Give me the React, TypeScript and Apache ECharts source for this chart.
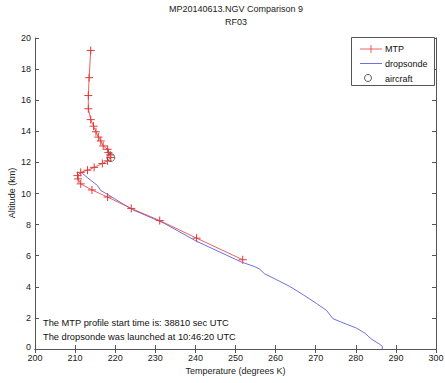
import React, { useEffect, useRef } from "react";
import * as echarts from "echarts";

const mtpTemp = [213.9, 213.5, 213.3, 213.3, 213.9, 214.6, 215.2, 215.8, 216.4, 217.0, 218.1, 218.3, 218.75, 218.9, 218.1, 216.8, 214.75, 213.1, 211.4, 210.6, 210.75, 211.4, 214.2, 218.1, 224.0, 231.1, 240.3, 251.8];
const mtpAlt = [19.2, 17.45, 16.3, 15.45, 14.75, 14.33, 13.97, 13.63, 13.38, 13.06, 12.84, 12.63, 12.48, 12.31, 12.1, 11.93, 11.68, 11.5, 11.36, 11.15, 10.94, 10.62, 10.23, 9.77, 9.04, 8.26, 7.13, 5.74];

const sondeTemp = [211.4, 211.8, 213.5, 215.6, 216.4, 218.1, 224.3, 231.0, 232.3, 240.2, 251.4, 254.75, 256.0, 257.25, 260.2, 263.5, 266.8, 270.2, 272.7, 274.3, 277.7, 280.2, 282.25, 283.9, 286.0, 286.6, 286.6];
const sondeAlt = [11.36, 11.3, 10.93, 10.51, 10.19, 9.94, 8.96, 8.22, 8.07, 6.94, 5.6, 5.3, 5.14, 4.84, 4.46, 4.03, 3.5, 2.93, 2.48, 1.95, 1.59, 1.34, 1.02, 0.64, 0.3, 0.17, 0.0];

const aircraftTemp = [218.9];
const aircraftAlt = [12.31];

const titleLines = ["MP20140613.NGV Comparison 9", "RF03"];
const noteLines = ["The MTP profile start time is: 38810 sec UTC", "The dropsonde was launched at 10:46:20 UTC"];
const legendNames = ["MTP", "dropsonde", "aircraft"];
const yAxisName = "Altitude (km)";
const xAxisName = "Temperature (degrees K)";

const FONT = "Liberation Sans, Arial, sans-serif";

export default function App() {
  const ref = useRef<HTMLDivElement>(null);
  useEffect(() => {
    if (!ref.current) return;
    const chart = echarts.init(ref.current, null, { renderer: "svg" });
    const L = 35, T = 38, W = 401, H = 311;
    const tickStyle = { show: true, inside: true, length: 4, lineStyle: { color: "#555" } };
    const axisLine = { show: true, lineStyle: { color: "#555", width: 1 } };
    const lab = { color: "#222", fontSize: 9, fontFamily: FONT };
    chart.setOption({
      animation: false,
      backgroundColor: "#fff",
      grid: { left: L, top: T, width: W, height: H, containLabel: false, outerBoundsMode: "none" },
      xAxis: [
        {
          type: "value", min: 200, max: 300, interval: 10, position: "bottom",
          axisLine, axisTick: tickStyle, splitLine: { show: false },
          axisLabel: { ...lab, margin: 4 },
          name: xAxisName, nameLocation: "middle", nameGap: 16,
          nameTextStyle: { color: "#222", fontSize: 9, fontFamily: FONT },
        },
        {
          type: "value", min: 200, max: 300, interval: 10, position: "top",
          axisLine, axisTick: tickStyle, splitLine: { show: false }, axisLabel: { show: false },
        },
      ],
      yAxis: [
        {
          type: "value", min: 0, max: 20, interval: 2, position: "left",
          axisLine, axisTick: tickStyle, splitLine: { show: false },
          axisLabel: { ...lab, margin: 4, formatter: (v: number) => (v === 0 ? "{z|0}" : String(v)), rich: { z: { fontSize: 9, fontFamily: FONT, color: "#222", padding: [0, 0, 4, 0] } } },
        },
        {
          type: "value", min: 0, max: 20, interval: 2, position: "right",
          axisLine, axisTick: tickStyle, splitLine: { show: false }, axisLabel: { show: false },
        },
      ],
      series: [
        {
          name: legendNames[1], type: "line", data: sondeTemp.map((t, i) => [t, sondeAlt[i]]),
          showSymbol: false, symbol: "none", lineStyle: { color: "#4a4ad8", width: 0.8 }, z: 2,
        },
        {
          name: legendNames[0], type: "line", data: mtpTemp.map((t, i) => [t, mtpAlt[i]]),
          symbol: "path://M5,0L5,10M0,5L10,5", symbolSize: 8, showSymbol: true,
          itemStyle: { color: "none", borderColor: "#e03a3a", borderWidth: 1 },
          lineStyle: { color: "#e03a3a", width: 0.8 }, z: 3,
        },
        {
          name: legendNames[2], type: "scatter", data: aircraftTemp.map((t, i) => [t, aircraftAlt[i]]),
          symbol: "circle", symbolSize: 8,
          itemStyle: { color: "none", borderColor: "#333", borderWidth: 0.8 }, z: 4,
        },
      ],
      graphic: [
        { type: "text", x: 236, y: 4, style: { text: titleLines[0], fontSize: 9, fontFamily: FONT, fill: "#222", align: "center" } },
        { type: "text", x: 236, y: 17, style: { text: titleLines[1], fontSize: 9, fontFamily: FONT, fill: "#222", align: "center" } },
        { type: "text", x: 12, y: 193, rotation: Math.PI / 2, style: { text: yAxisName, fontSize: 9, fontFamily: FONT, fill: "#222", align: "center", verticalAlign: "middle" } },
        { type: "text", x: 43, y: 318, style: { text: noteLines[0], fontSize: 9.3, fontFamily: FONT, fill: "#111" } },
        { type: "text", x: 43, y: 332, style: { text: noteLines[1], fontSize: 9.3, fontFamily: FONT, fill: "#111" } },
        { type: "rect", shape: { x: 351.5, y: 37.5, width: 83, height: 48 }, style: { fill: "#fff", stroke: "#555", lineWidth: 1 }, z: 10 },
        { type: "line", shape: { x1: 360, y1: 49, x2: 382, y2: 49 }, style: { stroke: "#e03a3a", lineWidth: 0.8 }, z: 11 },
        { type: "line", shape: { x1: 371, y1: 45, x2: 371, y2: 53 }, style: { stroke: "#e03a3a", lineWidth: 0.8 }, z: 11 },
        { type: "line", shape: { x1: 360, y1: 63.5, x2: 382, y2: 63.5 }, style: { stroke: "#4a4ad8", lineWidth: 0.8 }, z: 11 },
        { type: "circle", shape: { cx: 368, cy: 78, r: 3.5 }, style: { fill: "none", stroke: "#333", lineWidth: 0.8 }, z: 11 },
        { type: "text", x: 385, y: 44, style: { text: legendNames[0], fontSize: 9, fontFamily: FONT, fill: "#111" }, z: 11 },
        { type: "text", x: 385, y: 59, style: { text: legendNames[1], fontSize: 9, fontFamily: FONT, fill: "#111" }, z: 11 },
        { type: "text", x: 385, y: 74, style: { text: legendNames[2], fontSize: 9, fontFamily: FONT, fill: "#111" }, z: 11 },
      ],
    });
    return () => chart.dispose();
  }, []);
  return <div ref={ref} style={{ width: 445, height: 383, position: "fixed", left: 0, top: 0 }} />;
}
